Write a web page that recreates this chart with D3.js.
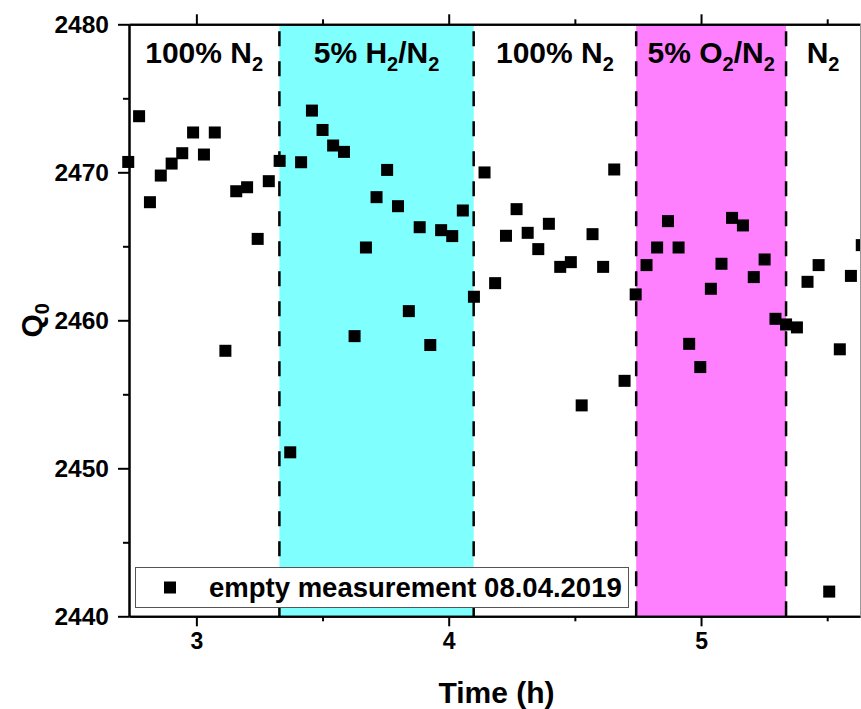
<!DOCTYPE html>
<html>
<head>
<meta charset="utf-8">
<script src="https://cdn.jsdelivr.net/npm/d3@7"></script>
<style>
  html, body { margin: 0; padding: 0; background: #fff; }
  svg { display: block; }
  text { font-family: "Liberation Sans", Arial, sans-serif; font-weight: bold; fill: #000; }
</style>
</head>
<body>
<svg id="chart" width="861" height="709"></svg>
<script>
// ---- data ----
const timeH = [2.730, 2.773, 2.816, 2.859, 2.902, 2.944, 2.987, 3.030, 3.073, 3.115,
  3.158, 3.201, 3.243, 3.287, 3.330, 3.372, 3.415, 3.458, 3.500, 3.542,
  3.585, 3.627, 3.672, 3.714, 3.756, 3.799, 3.842, 3.885, 3.927, 3.970,
  4.014, 4.056, 4.100, 4.142, 4.184, 4.227, 4.269, 4.313, 4.355, 4.397,
  4.442, 4.484, 4.527, 4.570, 4.612, 4.656, 4.697, 4.741, 4.784, 4.826,
  4.869, 4.911, 4.953, 4.997, 5.039, 5.081, 5.123, 5.166, 5.209, 5.252,
  5.295, 5.337, 5.380, 5.422, 5.466, 5.508, 5.550, 5.594, 5.637];
const q0 = [2470.70, 2473.79, 2467.98, 2469.78, 2470.59, 2471.29, 2472.69, 2471.20, 2472.69, 2457.94,
  2468.72, 2468.99, 2465.50, 2469.40, 2470.77, 2451.08, 2470.68, 2474.17, 2472.86, 2471.81,
  2471.38, 2458.93, 2464.92, 2468.32, 2470.16, 2467.71, 2460.62, 2466.29, 2458.33, 2466.09,
  2465.69, 2467.42, 2461.59, 2469.99, 2462.51, 2465.71, 2467.51, 2465.91, 2464.81, 2466.52,
  2463.61, 2463.93, 2454.25, 2465.82, 2463.61, 2470.19, 2455.91, 2461.75, 2463.73, 2464.92,
  2466.70, 2464.92, 2458.41, 2456.84, 2462.13, 2463.82, 2466.92, 2466.41, 2462.92, 2464.11,
  2460.10, 2459.72, 2459.52, 2462.60, 2463.73, 2441.67, 2458.04, 2463.00, 2465.08];

const xDomain = [2.733, 5.63];
const yDomain = [2440, 2480];
const xMajorTicks = [3, 4, 5];
const xMinorTicks = [3.5, 4.5, 5.5];
const yMajorTicks = [2440, 2450, 2460, 2470, 2480];
const yMinorTicks = [2445, 2455, 2465, 2475];

const regionStart = [2.733, 3.329, 4.099, 4.743, 5.337];
const regionEnd   = [3.329, 4.099, 4.743, 5.337, 5.63];
const regionLabel = ["100% N_2", "5% H_2/N_2", "100% N_2", "5% O_2/N_2", "N_2"];
const regionFill  = [null, "#80FFFF", null, "#FF80FF", null];
const boundaries  = [3.329, 4.099, 4.743, 5.337];

const seriesName = "empty measurement 08.04.2019";
const xTitle = "Time (h)";

// ---- layout ----
const svg = d3.select("#chart");
const L = 129, R = 860, T = 24.3, B = 616.3;
const x = d3.scaleLinear().domain(xDomain).range([L, R]);
const y = d3.scaleLinear().domain(yDomain).range([B, T]);
const FONT = "'Liberation Sans', Arial, sans-serif";

svg.append("rect").attr("width", 861).attr("height", 709).attr("fill", "#fff");

// region fills
svg.append("g").selectAll("rect")
  .data(regionStart.map((s, i) => ({ s, e: regionEnd[i], c: regionFill[i] })).filter(d => d.c))
  .join("rect")
  .attr("x", d => x(d.s)).attr("width", d => x(d.e) - x(d.s))
  .attr("y", T).attr("height", B - T)
  .attr("fill", d => d.c);

// dashed boundaries (drawn bottom -> top)
svg.append("g").selectAll("line").data(boundaries).join("line")
  .attr("x1", d => x(d)).attr("x2", d => x(d))
  .attr("y1", B).attr("y2", T)
  .attr("stroke", "#000").attr("stroke-width", 2.5)
  .attr("stroke-dasharray", "15,15");

// points
const sz = 12;
svg.append("g").selectAll("rect")
  .data(timeH.map((t, i) => ({ t, q: q0[i] })))
  .join("rect")
  .attr("x", d => x(d.t) - sz / 2).attr("y", d => y(d.q) - sz / 2)
  .attr("width", sz).attr("height", sz).attr("fill", "#000");

// axes
function styleAxis(g, fs) {
  g.attr("font-size", null).attr("font-family", null);
  g.select(".domain").attr("stroke", "#000").attr("stroke-width", 2);
  g.selectAll(".tick line").attr("stroke", "#000").attr("stroke-width", 2);
  g.selectAll(".tick text").attr("font-size", fs).attr("font-weight", "bold")
    .attr("font-family", FONT).attr("fill", "#000");
}
const yAxis = svg.append("g").attr("transform", `translate(${L},0)`)
  .call(d3.axisLeft(y).tickValues(yMajorTicks).tickSize(11).tickSizeOuter(0).tickPadding(9).tickFormat(d3.format("d")));
styleAxis(yAxis, 24.5);
const yMinor = svg.append("g").attr("transform", `translate(${L},0)`)
  .call(d3.axisLeft(y).tickValues(yMinorTicks).tickSize(6).tickSizeOuter(0).tickFormat(""));
styleAxis(yMinor, 10);

const xAxis = svg.append("g").attr("transform", `translate(0,${B})`)
  .call(d3.axisBottom(x).tickValues(xMajorTicks).tickSize(10).tickSizeOuter(0).tickPadding(6).tickFormat(d3.format("d")));
styleAxis(xAxis, 23);
const xMinor = svg.append("g").attr("transform", `translate(0,${B})`)
  .call(d3.axisBottom(x).tickValues(xMinorTicks).tickSize(5).tickSizeOuter(0).tickFormat(""));
styleAxis(xMinor, 10);

const xTop = svg.append("g").attr("transform", `translate(0,${T})`)
  .call(d3.axisTop(x).tickValues(xMajorTicks).tickSize(10).tickSizeOuter(0).tickFormat(""));
styleAxis(xTop, 10);
const xTopMinor = svg.append("g").attr("transform", `translate(0,${T})`)
  .call(d3.axisTop(x).tickValues(xMinorTicks).tickSize(5).tickSizeOuter(0).tickFormat(""));
styleAxis(xTopMinor, 10);

// right axis line
svg.append("line").attr("x1", R + 0.5).attr("x2", R + 0.5).attr("y1", T).attr("y2", B)
  .attr("stroke", "#999").attr("stroke-width", 1);

// region labels with subscripts
function addSubText(sel, str, mainSize, subSize, shift) {
  const parts = [];
  for (let i = 0; i < str.length; i++) {
    if (str[i] === "_") { parts.push({ t: str[i + 1], sub: true }); i++; }
    else {
      if (parts.length && !parts[parts.length - 1].sub) parts[parts.length - 1].t += str[i];
      else parts.push({ t: str[i], sub: false });
    }
  }
  let prevSub = false;
  parts.forEach(p => {
    const ts = sel.append("tspan").text(p.t)
      .attr("font-size", p.sub ? subSize : mainSize);
    if (p.sub && !prevSub) ts.attr("dy", shift);
    if (!p.sub && prevSub) ts.attr("dy", -shift);
    prevSub = p.sub;
  });
}
regionLabel.forEach((lab, i) => {
  const cx = (x(regionStart[i]) + x(regionEnd[i])) / 2;
  const t = svg.append("text").attr("x", cx).attr("y", 62.5).attr("text-anchor", "middle");
  addSubText(t, lab, 30, 20, 8);
});

// legend
const lg = svg.append("g");
lg.append("rect").attr("x", 135.5).attr("y", 567.5).attr("width", 493).attr("height", 40)
  .attr("fill", "#fff").attr("stroke", "#555").attr("stroke-width", 1);
lg.append("rect").attr("x", 170 - sz / 2).attr("y", 587.5 - sz / 2).attr("width", sz).attr("height", sz).attr("fill", "#000");
lg.append("text").attr("x", 209).attr("y", 596.5).attr("font-size", 27.5).text(seriesName);

// axis titles
svg.append("text").attr("x", (L + R) / 2 + 2).attr("y", 703).attr("text-anchor", "middle")
  .attr("font-size", 30).text(xTitle);
const yt = svg.append("text").attr("transform", `translate(42,${(T + B) / 2}) rotate(-90)`)
  .attr("text-anchor", "middle");
addSubText(yt, "Q_0", 30, 20, 7);
</script>
</body>
</html>
